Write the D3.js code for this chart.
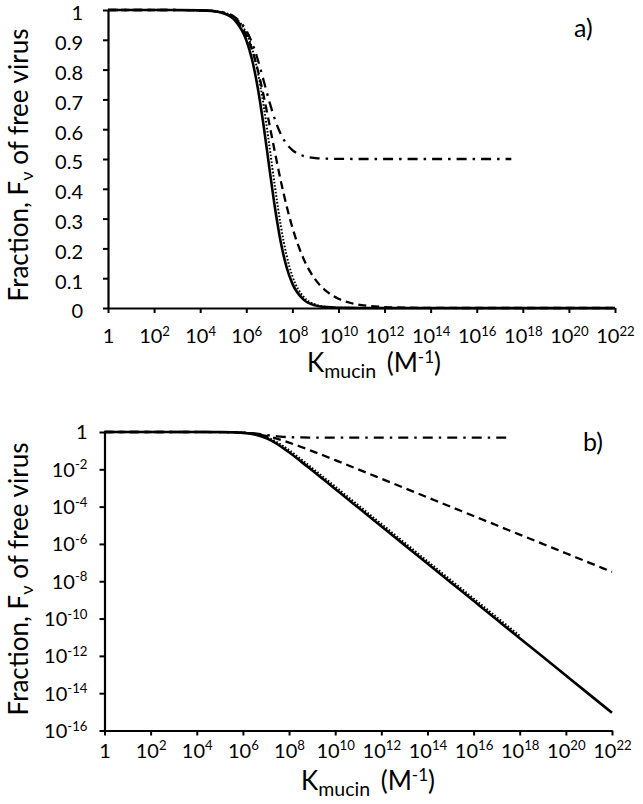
<!DOCTYPE html>
<html><head><meta charset="utf-8">
<script src="https://cdn.jsdelivr.net/npm/d3@7"></script>
<style>
body{margin:0;background:#fff;}
svg{display:block;font-family:Lato,"Open Sans",sans-serif;}
</style></head>
<body><svg id="c" width="643" height="804"></svg>
<script>
// ---- data ----
const logK = [0,1,2,3,4,4.5,5,5.5,6,6.25,6.5,6.75,7,7.25,7.5,7.75,8,8.5,9,9.5,10,10.5,11,12,13,14,15,16,17,17.5,18,19,20,21,22];
const solidF = [1,1,0.99999,0.99989,0.99888,0.99646,0.98891,0.96574,0.8991,0.8337,0.7381,0.6131,0.4713,0.3339,0.2199,0.1368,0.0818,0.0274,0.00883,0.00281,8.9e-4,2.8e-4,8.9e-5,8.9e-6,8.9e-7,8.9e-8,8.9e-9,8.9e-10,8.9e-11,2.8e-11,8.9e-12,8.9e-13,8.9e-14,8.9e-15,8.9e-16];
const dottedF = [1,1,0.99999,0.99992,0.99917,0.99738,0.99175,0.97437,0.9232,0.8711,0.7918,0.6813,0.5459,0.4034,0.2755,0.1761,0.1073,0.0366,0.01188,0.00379,1.2e-3,3.8e-4,1.2e-4,1.2e-5,1.2e-6,1.2e-7,1.2e-8,1.2e-9,1.2e-10,3.8e-11,1.2e-11,null,null,null,null];
const dashedF = [1,1,0.99999,0.9999,0.999,0.99686,0.9902,0.971,0.9161,0.8664,0.7984,0.7136,0.618,0.5197,0.426,0.3421,0.2702,0.1627,0.0951,0.0547,0.03113,0.01763,0.00995,0.003157,0.0009995,3.16e-4,1e-4,3.16e-5,1e-5,5.6e-6,3.16e-6,1e-6,3.16e-7,1e-7,3.16e-8];
const dashDotF = [1,1,0.99999,0.99992,0.99921,0.9975,0.9922,0.9761,0.9316,0.8901,0.8331,0.7644,0.6934,0.631,0.5832,0.5504,0.5297,0.5098,0.5031,0.501,0.5003,0.5001,0.5,0.5,0.5,0.5,0.5,0.5,0.5,0.5,null,null,null,null,null];
const xTickExps = [0,2,4,6,8,10,12,14,16,18,20,22];
const yTicksLinear = [0,0.1,0.2,0.3,0.4,0.5,0.6,0.7,0.8,0.9,1];
const yTickExpsLog = [0,-2,-4,-6,-8,-10,-12,-14,-16];
const yTitle = ["Fraction, F","ν"," of free virus"];
const xTitle = ["K","mucin"," (M","-1",")"];
const panelLabels = ["a)","b)"];

const series = [
  {vals: solidF,   width: 2.6, dash: null},
  {vals: dottedF,  width: 2.0, dash: "1.6,1.8"},
  {vals: dashedF,  width: 2.3, dash: "8,5"},
  {vals: dashDotF, width: 2.3, dash: "10,6,2.5,6"}
];

const svg = d3.select("#c");
const FS_TICK = 20, FS_TITLE = 26;

function supLabel(sel, base, sup, supDy) {
  sel.text(null);
  sel.append("tspan").text(base);
  if (sup != null) sel.append("tspan").attr("font-size", "0.66em").attr("dy", supDy).text(sup);
}

function drawPanel(cfg) {
  const g = svg.append("g");
  const x = d3.scaleLog().domain([1, 1e22]).range([cfg.x0, cfg.x1]);
  const y = cfg.yScale;

  series.forEach(s => {
    const pts = logK.map((e, i) => ({k: Math.pow(10, e), v: s.vals[i]}));
    const line = d3.line()
      .defined(d => d.v != null)
      .x(d => x(d.k)).y(d => y(d.v))
      .curve(d3.curveMonotoneX);
    g.append("path").datum(pts).attr("d", line)
      .attr("fill", "none").attr("stroke", "#000")
      .attr("stroke-width", s.width)
      .attr("stroke-dasharray", s.dash)
      .attr("stroke-linejoin", "round");
  });

  const xa = g.append("g").attr("transform", `translate(0,${cfg.yAxisPos})`)
    .call(d3.axisBottom(x).tickValues(xTickExps.map(e => Math.pow(10, e))).tickSize(5).tickSizeOuter(0).tickFormat(""));
  xa.select(".domain").attr("stroke-width", 2.2);
  xa.selectAll(".tick line").attr("stroke-width", 2);
  xa.selectAll(".tick").each(function(d, i) {
    const e = xTickExps[i];
    const t = d3.select(this).append("text")
      .attr("y", cfg.xLabDy).attr("fill", "#000").attr("font-size", FS_TICK)
      .attr("text-anchor", "middle");
    if (e === 0) supLabel(t, "1", null); else supLabel(t, "10", String(e), "-0.55em");
  });

  const ya = g.append("g").attr("transform", `translate(${cfg.x0},0)`)
    .call(d3.axisLeft(y).tickValues(cfg.yTickVals).tickSize(5).tickSizeOuter(0).tickFormat(""));
  ya.select(".domain").attr("stroke-width", 2.2);
  ya.selectAll(".tick line").attr("stroke-width", 2);
  ya.selectAll(".tick").each(function(d, i) {
    const t = d3.select(this).append("text")
      .attr("x", -cfg.yLabDx).attr("y", cfg.yLabOff).attr("dy", "0.34em").attr("fill", "#000").attr("font-size", FS_TICK)
      .attr("text-anchor", "end");
    cfg.yLabel(t, i);
  });
  g.selectAll("text").attr("font-family", "Lato, 'Open Sans', sans-serif");

  const yt = g.append("text").attr("transform", `translate(${cfg.yTitleX},${cfg.yTitleY}) rotate(-90)`)
    .attr("text-anchor", "middle").attr("font-size", FS_TITLE).attr("fill", "#000");
  yt.append("tspan").text(yTitle[0]);
  yt.append("tspan").attr("font-size", "0.7em").attr("dy", "0.25em").text(yTitle[1]);
  yt.append("tspan").attr("dy", "-0.175em").text(yTitle[2]);

  const xt = g.append("text").attr("x", cfg.xTitleX).attr("y", cfg.xTitleY)
    .attr("font-size", FS_TITLE).attr("fill", "#000");
  xt.append("tspan").text(xTitle[0]);
  xt.append("tspan").attr("font-size", "0.75em").attr("dy", "0.3em").text(xTitle[1]);
  xt.append("tspan").attr("dy", "-0.225em").attr("dx", 4).text(xTitle[2]);
  xt.append("tspan").attr("font-size", "0.66em").attr("dy", "-0.55em").text(xTitle[3]);
  xt.append("tspan").attr("dy", "0.363em").text(xTitle[4]);

  g.append("text").attr("x", cfg.labX).attr("y", cfg.labY).attr("font-size", 25).attr("fill", "#000").text(cfg.label);
}

drawPanel({
  x0: 108, x1: 615, yAxisPos: 308,
  yScale: d3.scaleLinear().domain([0, 1]).range([308, 10]),
  yTickVals: yTicksLinear,
  yLabel: (t, i) => t.text(String(yTicksLinear[i])),
  yLabDx: 25, yLabOff: 3, xLabDy: 35,
  yTitleX: 28, yTitleY: 165,
  xTitleX: 307, xTitleY: 372,
  labX: 574, labY: 37, label: panelLabels[0]
});

drawPanel({
  x0: 104.5, x1: 612, yAxisPos: 730.5,
  yScale: d3.scaleLog().domain([1e-16, 1]).range([730.5, 432]),
  yTickVals: yTickExpsLog.map(e => Math.pow(10, e)),
  yLabel: (t, i) => { const e = yTickExpsLog[i]; if (e === 0) supLabel(t, "1", null); else supLabel(t, "10", String(e), "-0.55em"); },
  yLabDx: 17, yLabOff: 0, xLabDy: 27,
  yTitleX: 28, yTitleY: 579,
  xTitleX: 301, xTitleY: 790,
  labX: 583, labY: 451, label: panelLabels[1]
});
</script></body></html>
